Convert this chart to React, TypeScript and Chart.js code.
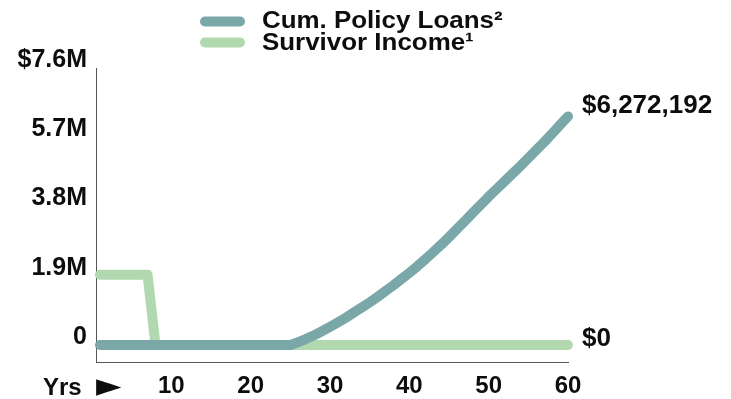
import React, { useEffect, useRef } from "react";
import { Chart, registerables } from "chart.js";

Chart.register(...registerables);

// Policy years shown on the horizontal axis
const years = [
  1, 2, 3, 4, 5, 6, 7, 8, 9, 10,
  11, 12, 13, 14, 15, 16, 17, 18, 19, 20,
  21, 22, 23, 24, 25, 26, 27, 28, 29, 30,
  31, 32, 33, 34, 35, 36, 37, 38, 39, 40,
  41, 42, 43, 44, 45, 46, 47, 48, 49, 50,
  51, 52, 53, 54, 55, 56, 57, 58, 59, 60,
];

// Cumulative policy loans, dollars, one value per year
const policyLoans = [
  0, 0, 0, 0, 0, 0, 0, 0, 0, 0,
  0, 0, 0, 0, 0, 0, 0, 0, 0, 0,
  0, 0, 0, 0, 0, 80000, 170000, 270000, 380000, 500000,
  620000, 750000, 890000, 1030000, 1170000, 1320000, 1480000, 1640000, 1810000, 1980000,
  2160000, 2350000, 2550000, 2750000, 2960000, 3180000, 3400000, 3630000, 3850000, 4070000,
  4280000, 4490000, 4700000, 4910000, 5130000, 5350000, 5570000, 5800000, 6040000, 6272192,
];

// Survivor income, dollars, one value per year
const survivorIncome = [
  1930000, 1930000, 1930000, 1930000, 1930000, 1930000, 1930000, 0, 0, 0,
  0, 0, 0, 0, 0, 0, 0, 0, 0, 0,
  0, 0, 0, 0, 0, 0, 0, 0, 0, 0,
  0, 0, 0, 0, 0, 0, 0, 0, 0, 0,
  0, 0, 0, 0, 0, 0, 0, 0, 0, 0,
  0, 0, 0, 0, 0, 0, 0, 0, 0, 0,
];

const seriesNames = ["Cum. Policy Loans²", "Survivor Income¹"];
const seriesColors = ["#7aa8a8", "#b2d8b0"];

const xTickValues = [10, 20, 30, 40, 50, 60];
const yTickValues = [0, 1900000, 3800000, 5700000, 7600000];
const yTickLabels = ["0", "1.9M", "3.8M", "5.7M", "$7.6M"];
const xAxisCaption = "Yrs";
const xAxisArrow = "►";

const FONT = "'Liberation Sans', Arial, Helvetica, sans-serif";
const INK = "#0d0d0d";

const formatDollars = (v: number) => "$" + v.toLocaleString("en-US");

// Two-row legend with pill swatches, drawn above the plot
const stackedLegend = {
  id: "stackedLegend",
  afterDraw(chart: any) {
    const { ctx } = chart;
    const rows = [
      { swatchY: 21.5, baseline: 28 },
      { swatchY: 42.5, baseline: 50 },
    ];
    ctx.save();
    chart.data.datasets.forEach((ds: any, i: number) => {
      const r = rows[i];
      ctx.strokeStyle = ds.borderColor;
      ctx.lineWidth = 10;
      ctx.lineCap = "round";
      ctx.beginPath();
      ctx.moveTo(205, r.swatchY);
      ctx.lineTo(240, r.swatchY);
      ctx.stroke();
      ctx.fillStyle = INK;
      ctx.font = `bold 24px ${FONT}`;
      ctx.textAlign = "left";
      ctx.textBaseline = "alphabetic";
      // slightly widened lettering for the legend entries
      ctx.save();
      ctx.translate(262, r.baseline);
      ctx.scale(1.08, 1);
      ctx.fillText(ds.label, 0, 0);
      ctx.restore();
    });
    ctx.restore();
  },
};

// Value labels at the end of each line, plus the caption left of the year ticks
const endLabels = {
  id: "endLabels",
  afterDraw(chart: any) {
    const { ctx } = chart;
    const baselineShift = [-3, 1];
    ctx.save();
    ctx.fillStyle = INK;
    ctx.font = `bold 26px ${FONT}`;
    ctx.textAlign = "left";
    ctx.textBaseline = "alphabetic";
    chart.data.datasets.forEach((ds: any, i: number) => {
      const meta = chart.getDatasetMeta(i);
      const last = meta.data[meta.data.length - 1];
      const value = ds.data[ds.data.length - 1].y;
      ctx.fillText(formatDollars(value), last.x + 14, last.y + baselineShift[i]);
    });
    ctx.font = `bold 24px ${FONT}`;
    ctx.fillText(xAxisCaption, 43, 395);
    ctx.font = `bold 33px 'DejaVu Sans', sans-serif`;
    ctx.fillText(xAxisArrow, 96, 396);
    ctx.restore();
  },
};

export default function App() {
  const canvasRef = useRef<HTMLCanvasElement | null>(null);

  useEffect(() => {
    document.body.style.margin = "0";
    const canvas = canvasRef.current;
    if (!canvas) return;

    const toPoints = (values: number[]) =>
      years.map((yr, i) => ({ x: yr, y: values[i] }));

    const lineStyle = {
      borderWidth: 10,
      pointRadius: 0,
      pointHoverRadius: 0,
      borderCapStyle: "round" as const,
      borderJoinStyle: "round" as const,
      tension: 0,
      fill: false,
      clip: false as const,
    };

    const chart = new Chart(canvas, {
      type: "line",
      data: {
        datasets: [
          {
            label: seriesNames[0],
            data: toPoints(policyLoans),
            borderColor: seriesColors[0],
            backgroundColor: seriesColors[0],
            ...lineStyle,
          },
          {
            label: seriesNames[1],
            data: toPoints(survivorIncome),
            borderColor: seriesColors[1],
            backgroundColor: seriesColors[1],
            ...lineStyle,
          },
        ],
      },
      options: {
        animation: false,
        responsive: true,
        maintainAspectRatio: false,
        layout: { padding: { top: 68, right: 163, bottom: 0, left: 0 } },
        plugins: {
          legend: { display: false },
          tooltip: { enabled: false },
        },
        scales: {
          x: {
            type: "linear",
            min: 0.5,
            max: 60,
            afterBuildTicks: (scale: any) => {
              scale.ticks = xTickValues.map((v) => ({ value: v }));
            },
            afterFit: (scale: any) => {
              scale.height = 37;
            },
            grid: { display: false, drawTicks: false },
            border: { display: true, color: "#555555", width: 1 },
            ticks: {
              padding: 12,
              color: INK,
              maxRotation: 0,
              autoSkip: false,
              font: { family: FONT, size: 24, weight: "bold", lineHeight: 1 },
              callback: (v: any) => String(v),
            },
          },
          y: {
            type: "linear",
            min: -466000,
            max: 7600000,
            afterBuildTicks: (scale: any) => {
              scale.ticks = yTickValues.map((v) => ({ value: v }));
            },
            afterFit: (scale: any) => {
              scale.width = 96;
            },
            grid: { display: false, drawTicks: false },
            border: { display: true, color: "#555555", width: 1 },
            ticks: {
              padding: 9,
              labelOffset: -8,
              color: INK,
              autoSkip: false,
              font: { family: FONT, size: 25, weight: "bold", lineHeight: 1 },
              callback: (v: any) => {
                const idx = yTickValues.indexOf(Number(v));
                return idx >= 0 ? yTickLabels[idx] : "";
              },
            },
          },
        },
      },
      plugins: [stackedLegend, endLabels],
    });

    return () => chart.destroy();
  }, []);

  return (
    <div style={{ position: "relative", width: 731, height: 399 }}>
      <canvas ref={canvasRef} style={{ display: "block" }} />
    </div>
  );
}
